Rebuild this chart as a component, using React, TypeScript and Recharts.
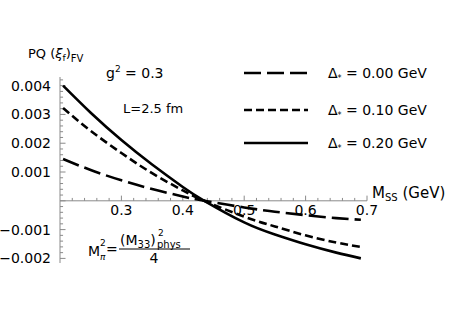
import React from 'react';
import { LineChart, Line, XAxis, YAxis, ReferenceLine, ReferenceDot } from 'recharts';

const mss = [0.205, 0.25, 0.3, 0.35, 0.4, 0.435, 0.5, 0.55, 0.6, 0.65, 0.69];
const delta000 = [0.00145, 0.00107, 0.00071, 0.00041, 0.00015, 0, -0.00023, -0.00038, -0.0005, -0.0006, -0.00066];
const delta010 = [0.00322, 0.00243, 0.00166, 0.00096, 0.00036, 0, -0.00055, -0.00089, -0.0012, -0.00145, -0.0016];
const delta020 = [0.004, 0.00306, 0.00211, 0.00126, 0.00048, 0, -0.00075, -0.00117, -0.00151, -0.0018, -0.002];

const xTicks = [0.3, 0.4, 0.5, 0.6, 0.7];
const xTickLabels = ['0.3', '0.4', '0.5', '0.6', '0.7'];
const yTicks = [-0.002, -0.001, 0, 0.001, 0.002, 0.003, 0.004];
const yTickLabels = ['\u22120.002', '\u22120.001', '', '0.001', '0.002', '0.003', '0.004'];
const xMinor = [0.22, 0.24, 0.26, 0.28, 0.32, 0.34, 0.36, 0.38, 0.42, 0.44, 0.46, 0.48, 0.52, 0.54, 0.56, 0.58, 0.62, 0.64, 0.66, 0.68];
const yMinor = [-0.0018, -0.0016, -0.0014, -0.0012, -0.0008, -0.0006, -0.0004, -0.0002, 0.0002, 0.0004, 0.0006, 0.0008, 0.0012, 0.0014, 0.0016, 0.0018, 0.0022, 0.0024, 0.0026, 0.0028, 0.0032, 0.0034, 0.0036, 0.0038, 0.0042];

const seriesLabels = ['0.00', '0.10', '0.20'];
const seriesDash = ['17 6', '8 4', undefined];

const data = mss.map((m, i) => ({ m, d000: delta000[i], d010: delta010[i], d020: delta020[i] }));

const FONT = '"DejaVu Sans", Verdana, sans-serif';
const AXIS = '#8a8a8a';

const YTick = (props: any) => {
  const { x, y, payload } = props;
  const idx = yTicks.indexOf(payload.value);
  const label = idx >= 0 ? yTickLabels[idx] : '';
  return (
    <text x={x} y={y} dy={5} textAnchor="end" fontSize={14} fill="#000" fontFamily={FONT}>
      {label}
    </text>
  );
};

export default function App() {
  return (
    <div style={{ position: 'absolute', left: 0, top: 0, width: 463, height: 309, background: '#fff' }}>
      <LineChart width={463} height={309} data={data} margin={{ top: 77, right: 96, bottom: 46, left: 5 }}>
        <XAxis dataKey="m" type="number" domain={[0.2, 0.7]} ticks={xTicks} hide />
        <YAxis
          type="number"
          domain={[-0.00216, 0.0043]}
          ticks={yTicks}
          width={55}
          tickSize={0}
          tickMargin={9}
          tickLine={false}
          axisLine={{ stroke: AXIS, strokeWidth: 1 }}
          tick={<YTick />}
          interval={0}
          allowDataOverflow
        />
        <ReferenceLine y={0} stroke={AXIS} strokeWidth={1} />
        {xTicks.map((t) => (
          <ReferenceLine key={'xt' + t} segment={[{ x: t, y: 0 }, { x: t, y: 0.00018 }]} stroke={AXIS} />
        ))}
        {xMinor.map((t) => (
          <ReferenceLine key={'xm' + t} segment={[{ x: t, y: 0 }, { x: t, y: 0.0001 }]} stroke={AXIS} />
        ))}
        {yTicks.map((t) => (
          <ReferenceLine key={'yt' + t} segment={[{ x: 0.2, y: t }, { x: 0.209, y: t }]} stroke={AXIS} />
        ))}
        {yMinor.map((t) => (
          <ReferenceLine key={'ym' + t} segment={[{ x: 0.2, y: t }, { x: 0.205, y: t }]} stroke={AXIS} />
        ))}
        {xTicks.map((t, i) => (
          <ReferenceDot
            key={'xl' + t}
            x={t}
            y={0}
            r={0}
            stroke="none"
            fill="none"
            label={{ value: xTickLabels[i], position: 'bottom', offset: 4, fontSize: 14, fill: '#000', fontFamily: FONT }}
          />
        ))}
        <Line dataKey="d000" type="natural" stroke="#000" strokeWidth={2.6} strokeDasharray="17 6" dot={false} isAnimationActive={false} />
        <Line dataKey="d010" type="natural" stroke="#000" strokeWidth={2.6} strokeDasharray="8 4" dot={false} isAnimationActive={false} />
        <Line dataKey="d020" type="natural" stroke="#000" strokeWidth={2.6} dot={false} isAnimationActive={false} />
      </LineChart>
      <svg width={463} height={309} style={{ position: 'absolute', left: 0, top: 0, pointerEvents: 'none' }}>
        {seriesLabels.map((lab, i) => {
          const yy = [73, 110, 143][i];
          return (
            <g key={lab}>
              <line x1={244} x2={308} y1={yy} y2={yy} stroke="#000" strokeWidth={2.6} strokeDasharray={seriesDash[i]} />
              <text x={328} y={yy + 5} fontSize={14} fontFamily={FONT} fill="#000">
                {'\u0394'}
                <tspan fontSize={8} dy={3}>*</tspan>
                <tspan dy={-3}>{' = ' + lab + ' GeV'}</tspan>
              </text>
            </g>
          );
        })}
        <text x={28} y={58} fontSize={13} fontFamily={FONT} fill="#000">
          PQ (
          <tspan fontStyle="italic">{'\u03be'}</tspan>
          <tspan fontSize={9} dy={3}>f</tspan>
          <tspan dy={-3}>)</tspan>
          <tspan fontSize={10} dy={4}>FV</tspan>
        </text>
        <text x={106} y={78} fontSize={14} fontFamily={FONT} fill="#000">
          g<tspan fontSize={9} dy={-6}>2</tspan>
          <tspan dy={6}>{' = 0.3'}</tspan>
        </text>
        <text x={123} y={113} fontSize={13} fontFamily={FONT} fill="#000">L=2.5 fm</text>
        <text x={372} y={198} fontSize={15} fontFamily={FONT} fill="#000">
          M<tspan fontSize={10} dy={3}>SS</tspan>
          <tspan dy={-3}>{' (GeV)'}</tspan>
        </text>
        <text x={88} y={256} fontSize={14} fontFamily={FONT} fill="#000">M</text>
        <text x={100} y={246} fontSize={9} fontFamily={FONT} fill="#000">2</text>
        <text x={100} y={260} fontSize={9} fontFamily={FONT} fill="#000" fontStyle="italic">{'\u03c0'}</text>
        <text x={106} y={254} fontSize={14} fontFamily={FONT} fill="#000">=</text>
        <line x1={119} x2={190} y1={249} y2={249} stroke="#000" strokeWidth={1} />
        <text x={120} y={245} fontSize={14} fontFamily={FONT} fill="#000">
          (M<tspan fontSize={10} dy={3}>33</tspan>
          <tspan dy={-3}>)</tspan>
        </text>
        <text x={158} y={236} fontSize={9} fontFamily={FONT} fill="#000">2</text>
        <text x={157} y={248} fontSize={10} fontFamily={FONT} fill="#000">phys</text>
        <text x={154} y={263} fontSize={14} fontFamily={FONT} fill="#000" textAnchor="middle">4</text>
      </svg>
    </div>
  );
}
